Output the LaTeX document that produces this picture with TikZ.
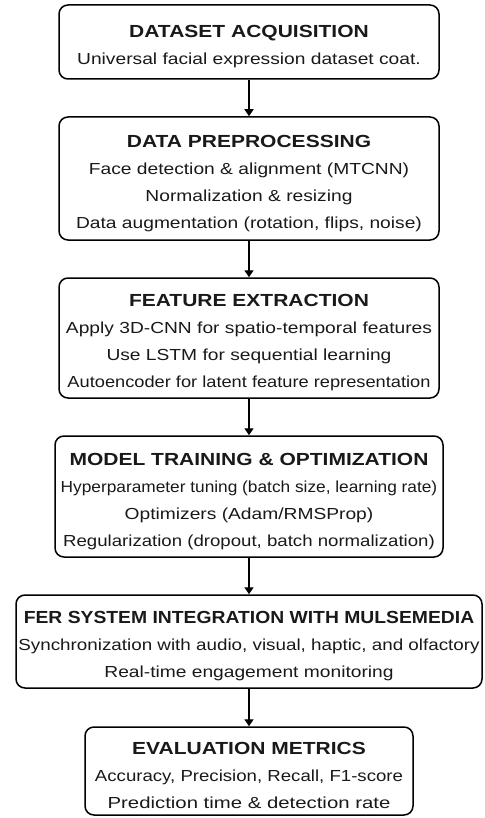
\documentclass[tikz,border=0pt]{standalone}
\usepackage{graphicx}
\usepackage{fontspec}
\setmainfont{Liberation Sans}[FakeStretch=1.2]
\usetikzlibrary{arrows.meta}
\usetikzlibrary{positioning}
\tikzstyle{stage} = [draw, rounded corners=9pt, line width=1.5pt, align=center, inner sep=0pt,
  font=\fontsize{16}{27}\selectfont, text=black!90]
\tikzstyle{arrow} = [line width=1.4pt, -{Triangle[width=9pt,length=7pt]}]
% heading line of a stage (the strut pushes the block down a bit)
\newcommand{\hd}[1]{\rule{0pt}{22pt}{\bfseries\fontsize{17.5}{27}\selectfont #1}}
% squeeze or widen one line
\newcommand{\sq}[2]{\scalebox{#1}[1]{#2}}

\begin{document}
\begin{tikzpicture}[x=1pt,y=-1pt]
\useasboundingbox (0,0) rectangle (484,818);

% Nodes
\node[stage, minimum width=380pt, minimum height=74pt] (acq) at (249,42)
  {\hd{DATASET ACQUISITION}\\Universal facial expression dataset coat.};
\node[stage, minimum width=380pt, minimum height=123pt] (prep) at (249,178.5)
  {\hd{DATA PREPROCESSING}\\Face detection \& alignment (MTCNN)\\Normalization \& resizing\\Data augmentation (rotation, flips, noise)};
\node[stage, minimum width=380pt, minimum height=120pt] (feat) at (249,338)
  {\hd{FEATURE EXTRACTION}\\Apply 3D-CNN for spatio-temporal features\\Use LSTM for sequential learning\\\sq{0.95}{Autoencoder for latent feature representation}};
\node[stage, minimum width=388pt, minimum height=121pt] (train) at (249,496.5)
  {\hd{MODEL TRAINING \& OPTIMIZATION}\\\sq{0.9}{Hyperparameter tuning (batch size, learning rate)}\\Optimizers (Adam/RMSProp)\\\sq{0.97}{Regularization (dropout, batch normalization)}};
\node[stage, minimum width=466pt, minimum height=93pt] (fer) at (249,641.5)
  {\hd{\sq{0.92}{FER SYSTEM INTEGRATION WITH MULSEMEDIA}}\\\sq{0.98}{Synchronization with audio, visual, haptic, and olfactory}\\Real-time engagement monitoring};
\node[stage, minimum width=328pt, minimum height=88pt] (eval) at (249,771)
  {\hd{EVALUATION METRICS}\\\sq{0.97}{Accuracy, Precision, Recall, F1-score}\\\sq{1.06}{Prediction time \& detection rate}};

% Edges
\draw[arrow] (acq) -- (prep);
\draw[arrow] (prep) -- (feat);
\draw[arrow] (feat) -- (train);
\draw[arrow] (train) -- (fer);
\draw[arrow] (fer) -- (eval);

\end{tikzpicture}
\end{document}
